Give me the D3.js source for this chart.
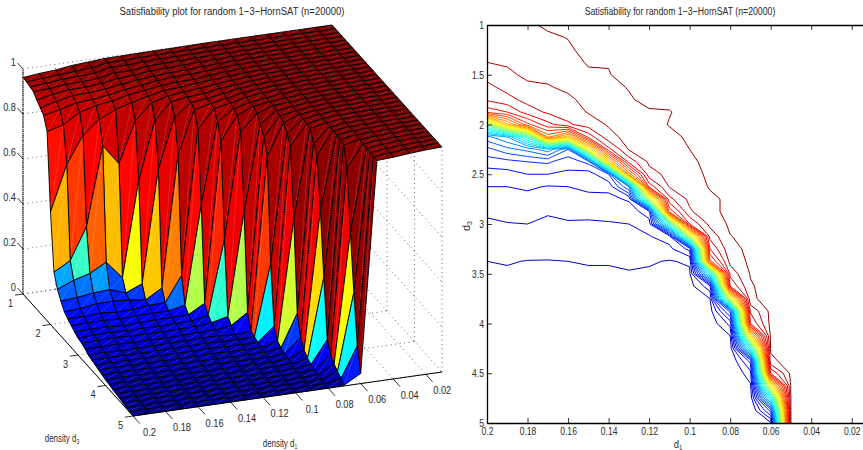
<!DOCTYPE html>
<html>
<head>
<meta charset="utf-8">
<script src="https://cdn.jsdelivr.net/npm/d3@7"></script>
<style>
body { margin: 0; background: #fff; overflow: hidden; }
text { font-family: "Liberation Sans", Arial, sans-serif; fill: #2a2a2a; }
</style>
</head>
<body>
<script>
// density values, one entry per grid line
const d1Values = [0.2, 0.19, 0.18, 0.17, 0.16, 0.15, 0.14, 0.13, 0.12, 0.11, 0.1, 0.09, 0.08, 0.07, 0.06, 0.05, 0.04, 0.03, 0.02, 0.01]
const d3Values = [1, 1.125, 1.25, 1.375, 1.5, 1.625, 1.75, 1.875, 2, 2.125, 2.25, 2.375, 2.5, 2.625, 2.75, 2.875, 3, 3.125, 3.25, 3.375, 3.5, 3.625, 3.75, 3.875, 4, 4.125, 4.25, 4.375, 4.5, 4.625, 4.75, 4.875, 5]

// fraction satisfiable for each d1, going down the d3 grid
const sat020 = [.962,.96,.955,.95,.93,.912,.895,.84, .5,.25,.19,.155,.125,.11,.097,.085, .075,.07,.062,.05,.045,.04,.035,.03, .025,.022,.018,.015,.012,.008,.005,.003,0]
const sat019 = [.97,.965,.96,.953,.945,.93,.91,.86, .7,.29,.22,.16,.128,.11,.098,.087, .079,.071,.06,.052,.046,.04,.036,.031, .026,.022,.018,.014,.011,.008,.005,.003,.001]
const sat018 = [.975,.97,.967,.962,.955,.945,.93,.905, .82,.43,.24,.17,.14,.115,.1,.088, .08,.074,.062,.049,.046,.04,.035,.03, .026,.022,.018,.014,.011,.008,.005,.003,.001]
const sat017 = [.985,.975,.97,.963,.956,.948,.935,.925, .88,.78,.28,.175,.14,.108,.095,.082, .076,.07,.058,.049,.044,.04,.035,.03, .026,.022,.017,.014,.011,.008,.005,.003,.001]
const sat016 = [.99,.981,.975,.968,.962,.955,.945,.935, .915,.69,.2,.15,.135,.11,.1,.085, .078,.07,.06,.05,.045,.04,.035,.03, .025,.021,.017,.014,.011,.008,.005,.003,.001]
const sat015 = [.995,.993,.99,.983,.975,.965,.958,.952, .935,.87,.62,.18,.125,.118,.1,.088, .076,.068,.058,.052,.046,.04,.034,.03, .025,.021,.017,.013,.01,.007,.005,.003,.001]
const sat014 = [.996,.994,.99,.981,.979,.975,.968,.962, .953,.94,.88,.68,.168,.12,.1,.088, .078,.07,.06,.052,.046,.04,.035,.03, .025,.02,.016,.013,.01,.007,.005,.003,.001]
const sat013 = [.997,.996,.994,.99,.987,.981,.978,.972, .968,.96,.952,.9,.75,.23,.115,.09, .08,.072,.062,.055,.048,.042,.036,.03, .025,.02,.016,.013,.01,.007,.005,.003,.001]
const sat012 = [.998,.997,.996,.993,.99,.986,.985,.978, .972,.968,.962,.955,.94,.87,.55,.13, .095,.078,.062,.053,.046,.038,.033,.028, .024,.02,.016,.012,.009,.007,.004,.002,.001]
const sat011 = [.998,.998,.997,.995,.992,.988,.985,.979, .981,.975,.968,.962,.957,.952,.91,.84, .42,.095,.072,.048,.044,.038,.032,.027, .023,.019,.015,.012,.009,.006,.004,.002,.001]
const sat010 = [.999,.999,.998,.997,.995,.993,.99,.987, .985,.983,.98,.975,.97,.965,.958,.945, .89,.55,.12,.054,.045,.037,.032,.027, .022,.018,.015,.012,.009,.006,.004,.002,.001]
const sat009 = [1,.999,.999,.998,.997,.996,.995,.993, .991,.989,.987,.987,.985,.982,.975,.975, .958,.93,.89,.82,.36,.1,.05,.036, .028,.022,.017,.013,.01,.007,.004,.002,.001]
const sat008 = [1,1,1,.999,.999,.998,.998,.997, .996,.995,.994,.993,.992,.991,.985,.985, .985,.979,.972,.96,.93,.89,.58,.18, .09,.05,.03,.02,.014,.01,.006,.003,.001]
const sat007 = [1,1,1,1,1,.999,.999,.999, .998,.998,.997,.997,.996,.995,.994,.992, .99,.988,.986,.986,.982,.977,.975,.925, .89,.66,.38,.12,.07,.045,.03,.015,.004]
const sat006 = [1,1,1,1,1,1,1,1, .999,.999,.999,.999,.998,.998,.998,.997, .997,.996,.995,.994,.993,.992,.99,.988, .988,.986,.983,.975,.89,.62,.37,.15,.045]
const sat005 = [1,1,1,1,1,1,1,1, 1,1,1,1,1,.999,.999,.999, .999,.999,.998,.998,.998,.997,.997,.996, .996,.995,.994,.99,.987,.985,.982,.981,.981]
const sat004 = [1,1,1,1,1,1,1,1, 1,1,1,1,1,1,1,1, 1,.999,.999,.999,.999,.998,.998,.998, .997,.997,.996,.995,.994,.992,.99,.987,.985]
const sat003 = [1,1,1,1,1,1,1,1, 1,1,1,1,1,1,1,1, 1,1,1,1,1,.999,.999,.999, .999,.999,.998,.998,.997,.997,.996,.994,.992]
const sat002 = [1,1,1,1,1,1,1,1, 1,1,1,1,1,1,1,1, 1,1,1,1,1,1,1,1, 1,1,.999,.999,.999,.999,.998,.998,.997]
const sat001 = [1,1,1,1,1,1,1,1, 1,1,1,1,1,1,1,1, 1,1,1,1,1,1,1,1, 1,1,1,1,1,1,1,1,1]
const satColumns = [sat020, sat019, sat018, sat017, sat016, sat015, sat014, sat013, sat012, sat011, sat010, sat009, sat008, sat007, sat006, sat005, sat004, sat003, sat002, sat001]

// contour levels of the right plot
const levels = [.05, .08, .11, .14, .17, .2, .23, .26, .29, .32, .35, .38, .41, .44, .47, .5, .53, .56, .59, .62, .65, .68, .71, .74, .77, .8, .83, .86, .89, .92, .95, .98]

// tick labels
const d1Ticks = [0.2, 0.18, 0.16, 0.14, 0.12, 0.1, 0.08, 0.06, 0.04, 0.02]
const d3Ticks3d = [1, 2, 3, 4, 5]
const d3Ticks = [1, 1.5, 2, 2.5, 3, 3.5, 4, 4.5, 5]
const zTicks = [0, 0.2, 0.4, 0.6, 0.8, 1]

const svg = d3.select('body')
    .append('svg')
    .attr('width', 863)
    .attr('height', 450)

// the original type is horizontally squeezed, so scale text around its anchor
function squeeze(sel, k) {
    sel.each(function () {
        const t = d3.select(this)
        const px = +t.attr('x') || 0
        const old = t.attr('transform') || ''
        t.attr('transform', `${old} translate(${px},0) scale(${k},1) translate(${-px},0)`)
    })
}

// matlab jet colormap
const jet = d3.scaleLinear()
    .domain([0, 0.125, 0.375, 0.625, 0.875, 1])
    .range(['#00008f', '#0000ff', '#00ffff', '#ffff00', '#ff0000', '#800000'])

// ---- left plot, orthographic box ----
const u = d3.scaleLinear().domain([0.2, 0.01]).range([0, 1])
const v = d3.scaleLinear().domain([1, 5]).range([0, 1])
const zs = d3.scaleLinear().domain([0, 1]).range([0, 225])

function project(d1, d3v, z) {
    return [
        23 + 110 * v(d3v) + 309 * u(d1),
        294 + 122 * v(d3v) - 44 * u(d1) - zs(z)
    ]
}

const line = d3.line()
const left = svg.append('g')

function gridLine(a, b) {
    left.append('path')
        .attr('d', line([project(...a), project(...b)]))
        .attr('fill', 'none')
        .attr('stroke', '#444')
        .attr('stroke-width', 0.8)
        .attr('stroke-dasharray', '1 3.5')
}

// dotted grid on the two back walls and the floor
zTicks.forEach(z => {
    gridLine([0.2, 1, z], [0.01, 1, z])
    gridLine([0.01, 1, z], [0.01, 5, z])
})
d1Ticks.forEach(d => {
    gridLine([d, 1, 0], [d, 1, 1])
    gridLine([d, 1, 0], [d, 5, 0])
})
d3Ticks3d.forEach(d => {
    gridLine([0.01, d, 0], [0.01, d, 1])
    gridLine([0.2, d, 0], [0.01, d, 0])
})
gridLine([0.01, 1, 0], [0.01, 1, 1])

// faces, far corner first so nearer ones paint over
const faces = []
for (let j = d1Values.length - 2; j >= 0; j--) {
    for (let i = 0; i < d3Values.length - 1; i++) {
        const hi = d1Values[j], lo = d1Values[j + 1]
        const t = d3Values[i], b = d3Values[i + 1]
        faces.push({
            pts: [
                project(hi, t, satColumns[j][i]),
                project(lo, t, satColumns[j + 1][i]),
                project(lo, b, satColumns[j + 1][i + 1]),
                project(hi, b, satColumns[j][i + 1])
            ],
            value: satColumns[j + 1][i]
        })
    }
}

const face = left.selectAll('g.face')
    .data(faces)
    .enter()
    .append('g')
    .attr('class', 'face')

face.append('path')
    .attr('d', d => line(d.pts) + 'Z')
    .attr('fill', d => jet(d.value))
    .attr('stroke', 'none')

face.append('path')
    .attr('d', d => line([d.pts[3], d.pts[1]]))
    .attr('stroke', '#fff')
    .attr('stroke-opacity', 0.45)
    .attr('stroke-width', 0.5)
    .attr('stroke-dasharray', '1.5 1')

face.append('path')
    .attr('d', d => line(d.pts) + 'Z')
    .attr('fill', 'none')
    .attr('stroke', '#000')
    .attr('stroke-width', 0.9)
    .attr('stroke-linejoin', 'round')

// axes of the box
function axisLine(a, b, color, width, dash) {
    left.append('path')
        .attr('d', line([project(...a), project(...b)]))
        .attr('fill', 'none')
        .attr('stroke', color)
        .attr('stroke-width', width)
        .attr('stroke-dasharray', dash || null)
}
axisLine([0.2, 1, 0], [0.2, 1, 1], '#333', 1.4, '1.5 0.6')
axisLine([0.2, 1, 0], [0.2, 5, 0], '#000', 1)
axisLine([0.2, 5, 0], [0.01, 5, 0], '#000', 1)

function tickLabel(p, dx, dy, txt, anchor) {
    left.append('text')
        .attr('class', 'tick3d')
        .attr('x', p[0] + dx)
        .attr('y', p[1] + dy)
        .attr('dy', '0.35em')
        .attr('text-anchor', anchor)
        .attr('font-size', 11)
        .text(txt)
}

zTicks.forEach(z => {
    axisLine([0.2, 1, z], [0.2, 0.8, z], '#000', 0.8)
    tickLabel(project(0.2, 1, z), -7, -7, z, 'end')
})
d3Ticks3d.forEach(d => {
    axisLine([0.2, d, 0], [0.205, d, 0], '#000', 0.8)
    tickLabel(project(0.2, d, 0), -12.5, 9, d, 'middle')
})
d1Ticks.forEach(d => {
    axisLine([d, 5, 0], [d, 5.25, 0], '#000', 0.8)
    tickLabel(project(d, 5, 0), 16.5, 16, d, 'middle')
})
squeeze(left.selectAll('.tick3d'), 0.84)

function subLabel(parent, x, y, base, sub) {
    const t = parent.append('text')
        .attr('x', x)
        .attr('y', y)
        .attr('text-anchor', 'middle')
        .attr('font-size', 11)
    t.append('tspan').text(base)
    t.append('tspan').attr('dy', 2).attr('font-size', 7).text(sub)
    return t
}

squeeze(subLabel(left, 62, 442, 'density d', '3'), 0.72)
squeeze(subLabel(left, 280, 447, 'density d', '1'), 0.72)

squeeze(svg.append('text')
    .attr('x', 232)
    .attr('y', 15)
    .attr('text-anchor', 'middle')
    .attr('font-size', 11.5)
    .text('Satisfiability plot for random 1\u22123\u2212HornSAT (n=20000)'), 0.825)

// ---- right plot ----
const x = d3.scaleLinear().domain([0.2, 0.01]).range([487, 872])
const y = d3.scaleLinear().domain([1, 5]).range([25, 423])
const right = svg.append('g')

function edgeCross(level, a, b) {
    if ((a[2] < level) === (b[2] < level)) return null
    const t = (level - a[2]) / (b[2] - a[2])
    return [x(a[0] + t * (b[0] - a[0])), y(a[1] + t * (b[1] - a[1]))]
}

right.selectAll('path.level')
    .data(levels)
    .enter()
    .append('path')
    .attr('class', 'level')
    .attr('fill', 'none')
    .attr('stroke', d => jet(d))
    .attr('stroke-width', 1)
    .attr('d', level => {
        const path = d3.path()
        for (let j = 0; j < d1Values.length - 1; j++) {
            for (let i = 0; i < d3Values.length - 1; i++) {
                const c = [
                    [d1Values[j], d3Values[i], satColumns[j][i]],
                    [d1Values[j + 1], d3Values[i], satColumns[j + 1][i]],
                    [d1Values[j + 1], d3Values[i + 1], satColumns[j + 1][i + 1]],
                    [d1Values[j], d3Values[i + 1], satColumns[j][i + 1]]
                ]
                const hits = [[0, 1], [1, 2], [2, 3], [3, 0]]
                    .map(e => edgeCross(level, c[e[0]], c[e[1]]))
                    .filter(p => p)
                for (let k = 0; k + 1 < hits.length; k += 2) {
                    path.moveTo(hits[k][0], hits[k][1])
                    path.lineTo(hits[k + 1][0], hits[k + 1][1])
                }
            }
        }
        return path.toString()
    })

const xAxis = right.append('g')
    .attr('transform', 'translate(0,423)')
    .call(d3.axisBottom(x).tickValues(d1Ticks).tickSizeInner(-5).tickSizeOuter(0).tickPadding(4).tickFormat(d => d))
const xTop = right.append('g')
    .attr('transform', 'translate(0,25)')
    .call(d3.axisTop(x).tickValues(d1Ticks).tickSizeInner(-5).tickSizeOuter(0).tickFormat(''))
const yAxis = right.append('g')
    .attr('transform', 'translate(487,0)')
    .call(d3.axisLeft(y).tickValues(d3Ticks).tickSizeInner(-5).tickSizeOuter(0).tickPadding(3).tickFormat(d => d))

right.selectAll('.domain').attr('stroke-width', 1.3)
right.selectAll('.tick line').attr('stroke-width', 0.8)
right.selectAll('.tick text').attr('font-size', 11)
squeeze(right.selectAll('.tick text'), 0.78)

squeeze(subLabel(right, 678, 448, 'd', '1'), 0.85)
subLabel(right, 0, 0, 'd', '3').attr('transform', 'translate(470,226) rotate(-90)')

squeeze(svg.append('text')
    .attr('x', 680)
    .attr('y', 15)
    .attr('text-anchor', 'middle')
    .attr('font-size', 11.5)
    .text('Satisfiability for random 1\u22123\u2212HornSAT (n=20000)'), 0.76)
</script>
</body>
</html>
